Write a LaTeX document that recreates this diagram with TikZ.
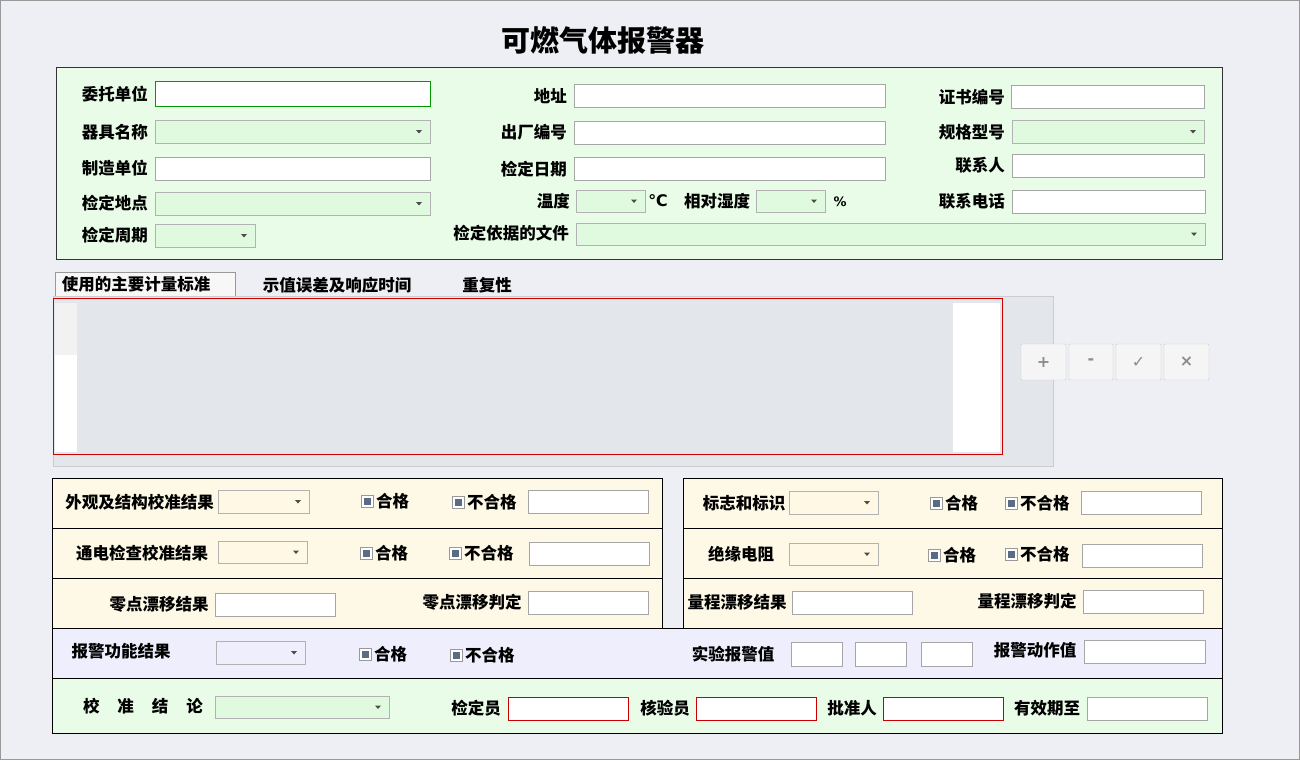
\documentclass[tikz,border=0pt]{standalone}
\usepackage{fontspec}
\usetikzlibrary{calc}
\setmainfont{Noto Sans CJK SC}
\newfontfamily\djv{DejaVu Sans}
\begin{document}
\begin{tikzpicture}[x=1pt,y=-1pt,font=\fontsize{16.5}{18}\selectfont\bfseries,
 lbl/.style={inner sep=0pt,anchor=center},
 lblr/.style={inner sep=0pt,anchor=east},
 tbox/.style={draw=black!35,fill=white},
 chkbox/.style={draw=black!40,fill=white,minimum size=12pt,inner sep=0pt},
 btn/.style={draw=black!20,fill=black!4,rounded corners=1pt}]
\definecolor{bg}{HTML}{EDEFF4}
\definecolor{pgreen}{HTML}{E8FCE8}
\definecolor{cgreen}{HTML}{E0FADF}
\definecolor{pyel}{HTML}{FDF9E6}
\definecolor{cyel}{HTML}{FFF8E4}
\definecolor{plav}{HTML}{EEEEFD}
\definecolor{cgrey}{HTML}{E3E6EA}
\definecolor{chkc}{HTML}{5A6B85}
\newcommand\tbx[4]{\draw[tbox] (#1,#2) rectangle (#3,#4);}
\newcommand\rbx[4]{\draw[draw=red!80!black,fill=white] (#1,#2) rectangle (#3,#4);}
\newcommand\cbx[5][cgreen]{\draw[draw=black!30,fill=#1] (#2,#3) rectangle (#4,#5);
 \fill[black!70] ($(#4,#3)!0.5!(#4,#5)+(-14,-1.5)$) -- ++(6,0) -- ++(-3,3.5) -- cycle;}
\newcommand\chk[3]{\node[chkbox] (#1) at (#2,#3) {}; \fill[chkc] (#2-3.5,#3-3.5) rectangle (#2+3.5,#3+3.5);}
\useasboundingbox (0,0) rectangle (1300,760);
\fill[bg] (0,0) rectangle (1300,760);
\draw[black!40] (0.5,0.5) rectangle (1299.5,759.5);
\node[lbl,font=\fontsize{29}{32}\selectfont\bfseries] (title) at (603,40) {可燃气体报警器};
% top panel
\draw[fill=pgreen,draw=black!80] (56,67) rectangle (1222,259);
\node[lblr] (l1) at (148,94) {委托单位};
\draw[draw=green!60!black,fill=white,line width=1pt] (155,81) rectangle (430,106);
\node[lblr] (l2) at (567,96) {地址}; \tbx{574}{84}{885}{107}
\node[lblr] (l3) at (1005,97) {证书编号}; \tbx{1011}{85}{1204}{108}
\node[lblr] (l4) at (148,132) {器具名称}; \cbx{155}{120}{430}{143}
\node[lblr] (l5) at (567,132) {出厂编号}; \tbx{574}{121}{885}{144}
\node[lblr] (l6) at (1005,132) {规格型号}; \cbx{1012}{120}{1204}{143}
\node[lblr] (l7) at (148,168) {制造单位}; \tbx{155}{157}{430}{180}
\node[lblr] (l8) at (567,169) {检定日期}; \tbx{574}{157}{885}{180}
\node[lblr] (l9) at (1005,165) {联系人}; \tbx{1012}{154}{1204}{177}
\node[lblr] (l10) at (148,203) {检定地点}; \cbx{155}{192}{430}{215}
\node[lblr] (l11) at (570,201) {温度}; \cbx{576}{190}{645}{212}
\node[lbl,font=\djv\bfseries\fontsize{16}{18}\selectfont] (deg) at (658,201) {℃};
\node[lbl] (l12) at (717,201) {相对湿度}; \cbx{756}{190}{825}{212}
\node[lbl,font=\djv\bfseries\fontsize{13}{15}\selectfont] (pct) at (840,202) {\%};
\node[lblr] (l13) at (1005,201) {联系电话}; \tbx{1012}{190}{1205}{213}
\node[lblr] (l14) at (148,235) {检定周期}; \cbx{155}{224}{255}{247}
\node[lblr] (l15) at (569,233) {检定依据的文件}; \cbx{576}{223}{1205}{245}
% tabs
\draw[black!40,fill=black!3] (55,296) -- (55,272) -- (235,272) -- (235,296);
\node[lbl] (t1) at (136,284) {使用的主要计量标准};
\node[lbl] (t2) at (337,285) {示值误差及响应时间};
\node[lbl] (t3) at (487,285) {重复性};
\draw[fill=cgrey,draw=black!20] (53,296) rectangle (1053,466);
\draw[red!80!black,fill=cgrey] (53,298) rectangle (1002,454);
\fill[white] (953,303) rectangle (1000,452);
\fill[white] (55,355) rectangle (77,452);
\fill[black!5] (55,303) rectangle (77,355);
\tikzset{btxt/.style={font=\djv\bfseries\fontsize{16}{18}\selectfont,text=black!45}}
\node[btn,btxt,minimum width=45pt,minimum height=36pt] (b1) at (1043.5,362) {+};
\node[btn,btxt,minimum width=44pt,minimum height=36pt] (b2) at (1091,362) {-};
\node[btn,btxt,minimum width=45pt,minimum height=36pt] (b3) at (1138.5,362) {✓};
\node[btn,btxt,minimum width=45pt,minimum height=36pt] (b4) at (1186.5,362) {×};
% lower panels
\draw[fill=pyel] (52,478) rectangle (662,628);
\draw (52,528) -- (662,528); \draw (52,578) -- (662,578);
\draw[fill=pyel] (683,478) rectangle (1222,628);
\draw (683,528) -- (1222,528); \draw (683,578) -- (1222,578);
\draw[fill=plav] (52,628) rectangle (1222,678);
\draw[fill=pgreen] (52,678) rectangle (1222,733);
% row A
\node[lblr] (a1) at (214,502) {外观及结构校准结果}; \cbx[cyel]{218}{490}{309}{513}
\chk{c1}{367}{501} \node[lbl,anchor=west] (c1t) at (376,501) {合格};
\chk{c2}{458}{502} \node[lbl,anchor=west] (c2t) at (467,502) {不合格};
\tbx{528}{490}{648}{513}
\node[lbl] (a2) at (744,503) {标志和标识}; \cbx[cyel]{789}{491}{878}{514}
\chk{c3}{936}{503} \node[lbl,anchor=west] (c3t) at (945,503) {合格};
\chk{c4}{1011}{503} \node[lbl,anchor=west] (c4t) at (1020,503) {不合格};
\tbx{1081}{491}{1201}{514}
% row B
\node[lbl] (bb1) at (142,553) {通电检查校准结果}; \cbx[cyel]{218}{541}{307}{563}
\chk{c5}{366}{553} \node[lbl,anchor=west] (c5t) at (375,553) {合格};
\chk{c6}{455}{553} \node[lbl,anchor=west] (c6t) at (464,553) {不合格};
\tbx{529}{542}{649}{565}
\node[lbl] (bb2) at (741,554) {绝缘电阻}; \cbx[cyel]{789}{543}{878}{565}
\chk{c7}{934}{555} \node[lbl,anchor=west] (c7t) at (943,555) {合格};
\chk{c8}{1011}{554} \node[lbl,anchor=west] (c8t) at (1020,554) {不合格};
\tbx{1082}{544}{1202}{567}
% row C
\node[lbl] (r1) at (159,604) {零点漂移结果}; \tbx{215}{593}{335}{616}
\node[lbl] (r2) at (472,602) {零点漂移判定}; \tbx{528}{591}{648}{614}
\node[lbl] (r3) at (737,602) {量程漂移结果}; \tbx{792}{591}{912}{614}
\node[lbl] (r4) at (1027,601) {量程漂移判定}; \tbx{1083}{590}{1203}{613}
% row D
\node[lbl] (d1) at (121,651) {报警功能结果}; \cbx[plav]{216}{641}{305}{664}
\chk{c9}{365}{654} \node[lbl,anchor=west] (c9t) at (374,654) {合格};
\chk{c10}{456}{655} \node[lbl,anchor=west] (c10t) at (465,655) {不合格};
\node[lbl] (d2) at (733,654) {实验报警值};
\tbx{791}{642}{842}{666} \tbx{855}{642}{906}{666} \tbx{921}{642}{972}{666}
\node[lbl] (d3) at (1035,650) {报警动作值}; \tbx{1084}{640}{1205}{663}
% row E
\node[lbl] (e1) at (143,706) {校\hspace{18pt}准\hspace{18pt}结\hspace{18pt}论}; \cbx{215}{696}{389}{718}
\node[lbl] (e2) at (476,708) {检定员}; \rbx{508}{697}{628}{720}
\node[lbl] (e3) at (665,708) {核验员}; \rbx{696}{697}{816}{720}
\node[lbl] (e4) at (852,708) {批准人}; \rbx{883}{697}{1003}{720}
\node[lbl] (e5) at (1047,708) {有效期至}; \tbx{1087}{697}{1207}{720}
\end{tikzpicture}
\end{document}
